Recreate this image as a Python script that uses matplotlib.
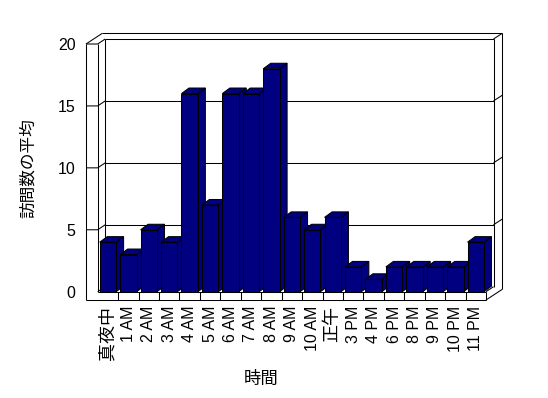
import matplotlib
matplotlib.use("Agg")
import matplotlib.pyplot as plt
from matplotlib.patches import Polygon

hours = ["真夜中", "1 AM", "2 AM", "3 AM", "4 AM", "5 AM", "6 AM", "7 AM",
         "8 AM", "9 AM", "10 AM", "正午", "3 PM", "4 PM", "6 PM", "8 PM",
         "9 PM", "10 PM", "11 PM"]
visits = [4, 3, 5, 4, 16, 7, 16, 16, 18, 6, 5, 6, 2, 1, 2, 2, 2, 2, 4]
yticks = [0, 5, 10, 15, 20]

plt.rcParams["font.family"] = ["Liberation Sans", "Noto Sans CJK JP"]
plt.rcParams["font.size"] = 11.5

fig = plt.figure(figsize=(5.48, 3.98), dpi=100)
# axes = front plane of the 3d box
ax = fig.add_axes([97.7 / 548, (398 - 291.7) / 398,
                   (486 - 97.7) / 548, (291.7 - 44) / 398])
n = len(hours)
L, R, B, T = -0.5, n - 0.5, 0, 20
ax.set_xlim(L, R)
ax.set_ylim(B, T)
for s in ax.spines.values():
    s.set_visible(False)

pxx = (486 - 97.7) / n          # pixels per category
pxy = (291.7 - 44) / 20         # pixels per unit
W = 11.7 / pxx                  # left wall thickness
F = 8.3 / pxy                   # floor thickness
dxi, dyi = 7.5 / pxx, 5.0 / pxy     # inner depth (back wall face)
dxo, dyo = 16.3 / pxx, 10.7 / pxy   # outer depth
dxb, dyb = 7.5 / pxx, 5.5 / pxy     # bar depth

lw = 0.75
lk = dict(color="black", lw=lw, clip_on=False, solid_capstyle="butt")


def seg(xs, ys, z=1):
    ax.plot(xs, ys, zorder=z, **lk)


# back wall + gridlines
seg([L + dxi, L + dxi], [B + dyi, T + dyi])
seg([R + dxi, R + dxi], [B + dyi, T + dyi])
for v in yticks[1:]:
    seg([L + dxi, R + dxi], [v + dyi, v + dyi])
    seg([R + dxi, R + dxo], [v + dyi, v + dyo])
    seg([L - W, L, L + dxi], [v, v, v + dyi])
seg([L, L + dxi], [B, B + dyi])
# outer frame
seg([L - W, L - W], [B - F, T])
seg([L, L], [B, T])
seg([L - W + dxo, R + dxo], [T + dyo, T + dyo])
seg([L - W, L - W + dxo], [T, T + dyo])
seg([R + dxo, R + dxo], [B - F + dyo, T + dyo])
seg([R, R + dxo], [B - F, B - F + dyo])
seg([R, R + dxi], [B, B + dyi])
# floor slab
seg([L - W, R], [B - F, B - F], 5)
seg([L, R], [B, B], 5)
seg([R, R], [B - F, B], 5)
for k in range(1, n):
    seg([L + k, L + k], [B - F, B], 5)

# bars
navy = "#000080"
w = 0.8
bars = ax.bar(range(n), visits, width=w, color=navy, edgecolor="black",
              linewidth=lw)
for i, (b, v) in enumerate(zip(bars, visits)):
    z = 2 + i * 0.01
    b.set_zorder(z + 0.005)
    x0, x1 = i - w / 2, i + w / 2
    top = Polygon([(x0, v), (x1, v), (x1 + dxb, v + dyb), (x0 + dxb, v + dyb)],
                  closed=True, fc=navy, ec="black", lw=lw, zorder=z,
                  clip_on=False)
    side = Polygon([(x1, 0), (x1 + dxb, dyb), (x1 + dxb, v + dyb), (x1, v)],
                   closed=True, fc=navy, ec="black", lw=lw, zorder=z,
                   clip_on=False)
    ax.add_patch(side)
    ax.add_patch(top)

ax.set_xticks(range(n))
ax.set_xticklabels(hours, rotation=90, va="top", ha="center")
for t in ax.get_xticklabels():
    if not t.get_text()[0].isdigit():
        t.set_fontsize(13)
ax.set_yticks(yticks)
ax.tick_params(axis="x", length=0, pad=10)
ax.tick_params(axis="y", length=0, pad=16)
ax.set_xlabel("時間", fontsize=12.5, labelpad=8, x=0.422)
ax.set_ylabel("訪問数の平均", fontsize=12, labelpad=16, y=0.5)

fig.savefig("out.png", dpi=100)
